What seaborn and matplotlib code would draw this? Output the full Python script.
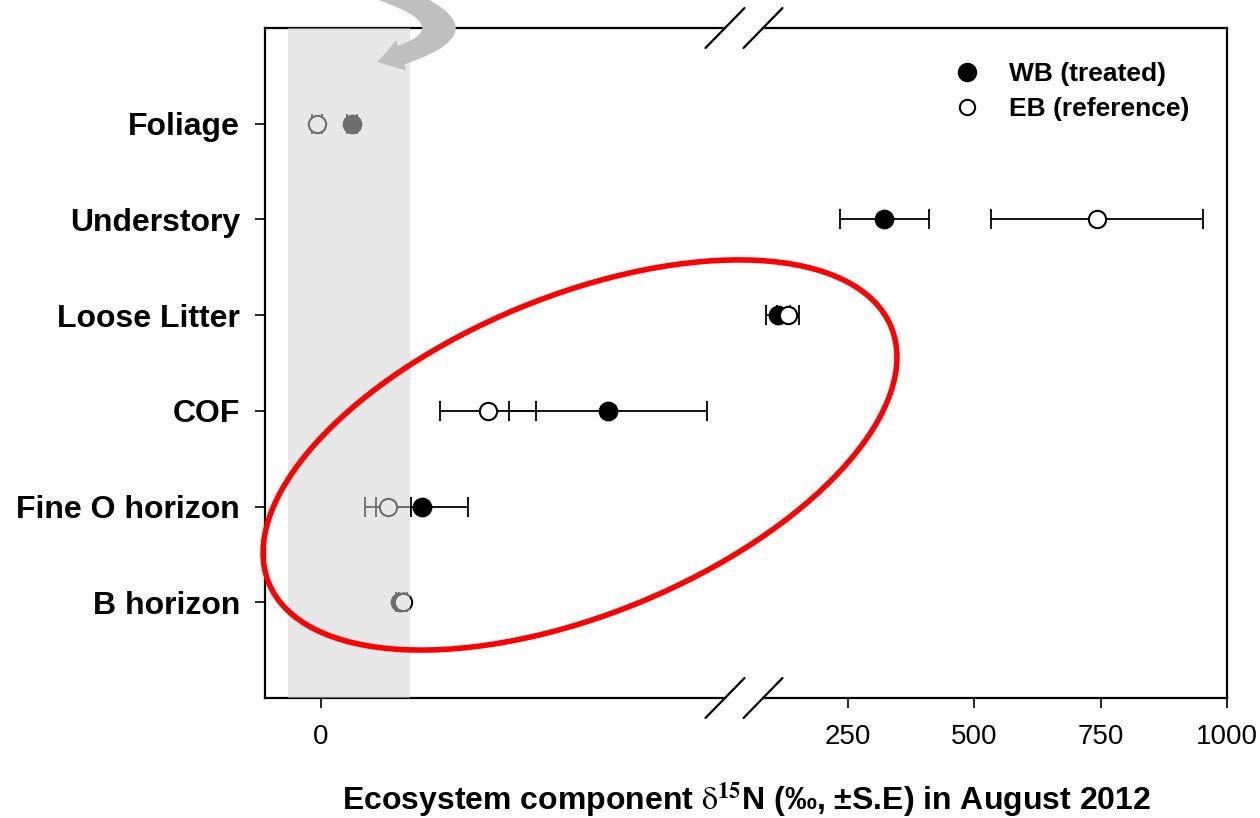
import numpy as np
import pandas as pd
import matplotlib
matplotlib.use("Agg")
import matplotlib.pyplot as plt
import seaborn as sns
from matplotlib.patches import Ellipse, FancyArrowPatch
from matplotlib.lines import Line2D

# ---------------- data ----------------
components = ["Foliage", "Understory", "Loose Litter", "COF", "Fine O horizon", "B horizon"]
wb_mean = [3.1, 323, 112, 28.7, 10.1, 7.9]
wb_se = [0.5, 88, 24, 9.9, 4.6, 0.4]
eb_mean = [-0.4, 743, 132, 16.7, 6.7, 8.2]
eb_se = [0.5, 209, 22, 4.8, 2.3, 0.4]
left_ticks = [0]
right_ticks = [250, 500, 750, 1000]
natural_band = (-3.3, 8.9)
left_lim = (-5.6, 40.4)
right_lim = (83, 1000)
legend_labels = ["WB (treated)", "EB (reference)"]

# ---------------- style ----------------
sns.set_style("white")
plt.rcParams['font.family'] = ['Liberation Sans', 'DejaVu Sans']
plt.rcParams['mathtext.fontset'] = 'stix'
plt.rcParams['text.color'] = 'black'
plt.rcParams['xtick.color'] = 'black'
plt.rcParams['ytick.color'] = 'black'
plt.rcParams['axes.labelcolor'] = 'black'

ypos = {c: len(components) - i for i, c in enumerate(components)}
rows = []
for c, m, s in zip(components, wb_mean, wb_se):
    rows.append(dict(component=c, treatment="WB", mean=m, se=s, y=ypos[c]))
for c, m, s in zip(components, eb_mean, eb_se):
    rows.append(dict(component=c, treatment="EB", mean=m, se=s, y=ypos[c]))
df = pd.DataFrame(rows)
df["segment"] = np.where(df["mean"] < right_lim[0], "left", "right")

W, H = 1260, 818
fig = plt.figure(figsize=(W / 100, H / 100), dpi=100)
axL = fig.add_axes([265 / W, 120 / H, 460 / W, 670 / H])
axR = fig.add_axes([763 / W, 120 / H, 464 / W, 670 / H])

for ax, seg, lim in [(axL, "left", left_lim), (axR, "right", right_lim)]:
    sub = df[df.segment == seg]
    for tr in ["WB", "EB"]:
        t = sub[sub.treatment == tr]
        ax.errorbar(t["mean"], t["y"], xerr=t["se"], fmt="none", ecolor="black",
                    elinewidth=1.3, capsize=7, capthick=1.3, zorder=2)
    wb = sub[sub.treatment == "WB"]
    eb = sub[sub.treatment == "EB"]
    sns.scatterplot(data=wb, x="mean", y="y", ax=ax, color="black", edgecolor="black",
                    s=175, linewidth=1, zorder=3, legend=False)
    sns.scatterplot(data=eb, x="mean", y="y", ax=ax, color="white", edgecolor="black",
                    s=155, linewidth=1.5, zorder=4, legend=False)
    ax.set_xlim(*lim)
    ax.set_ylim(0, 7)
    ax.set_xlabel("")
    ax.set_ylabel("")
    for sp in ax.spines.values():
        sp.set_linewidth(1.6)
        sp.set_color("black")

# natural abundance band (semi-transparent overlay)
axL.axvspan(*natural_band, color="#d4d4d4", alpha=0.52, lw=0, zorder=6)

axL.spines["right"].set_visible(False)
axR.spines["left"].set_visible(False)

narrow = ['Liberation Sans Narrow', 'Liberation Sans', 'DejaVu Sans']
axL.set_xticks(left_ticks)
axL.set_xticklabels([str(v) for v in left_ticks], fontsize=20, family=narrow)
axR.set_xticks(right_ticks)
axR.set_xticklabels([str(v) for v in right_ticks], fontsize=20, family=narrow)
axL.set_yticks([ypos[c] for c in components])
axL.set_yticklabels(components, fontsize=23, fontweight="bold")
axR.set_yticks([])
axL.tick_params(axis="both", which="both", direction="out", length=7, width=1.2,
                bottom=True, left=True, top=False, right=False)
axL.tick_params(axis="x", pad=12)
axL.tick_params(axis="y", pad=11)
axR.tick_params(axis="x", direction="out", length=7, width=1.2, bottom=True, pad=12)
axR.tick_params(axis="y", left=False, right=False)

# break marks
def slash(ax, x, y, wpx, hpx):
    dx, dy = 19.5 / wpx, 20 / hpx
    ax.plot([x - dx, x + dx], [y - dy, y + dy], transform=ax.transAxes,
            color="black", lw=1.6, clip_on=False, zorder=10)

for yy in (0, 1):
    slash(axL, 1, yy, 460, 670)
    slash(axR, 0, yy, 464, 670)

# legend
handles = [
    Line2D([], [], marker="o", ls="", markersize=13, mfc="black", mec="black"),
    Line2D([], [], marker="o", ls="", markersize=11, mfc="white", mec="black", mew=1.5),
]
fig.legend(handles, legend_labels, loc="upper left",
           bbox_to_anchor=(955 / W, (H - 62) / H), bbox_transform=fig.transFigure,
           frameon=False, prop=dict(size=19, weight="bold"), handlelength=0.9,
           handletextpad=1.15, labelspacing=0.43, borderpad=0, borderaxespad=0)

# x label
fig.text(746 / W, (H - 800) / H,
         r"Ecosystem component $\mathrm{\delta}^{\mathbf{15}}$N (‰, ±S.E) in August 2012",
         ha="center", va="center", fontsize=23, fontweight="bold")

# red ellipse annotation
ell = Ellipse((5.80, 3.63), 6.73, 3.18, angle=22.4, transform=fig.dpi_scale_trans,
              fill=False, ec="#ff0000", lw=4, zorder=20)
fig.add_artist(ell)

# gray curved arrow
arr = FancyArrowPatch(posA=(3.80, 8.28), posB=(3.77, 7.56), transform=fig.dpi_scale_trans,
                      connectionstyle="arc3,rad=-1.68",
                      arrowstyle="simple,head_length=1.2,head_width=1.55,tail_width=0.95",
                      mutation_scale=15, color="#c0c0c0", lw=0, shrinkA=0, shrinkB=0,
                      zorder=20)
fig.add_artist(arr)

fig.savefig("out.png", dpi=100)
